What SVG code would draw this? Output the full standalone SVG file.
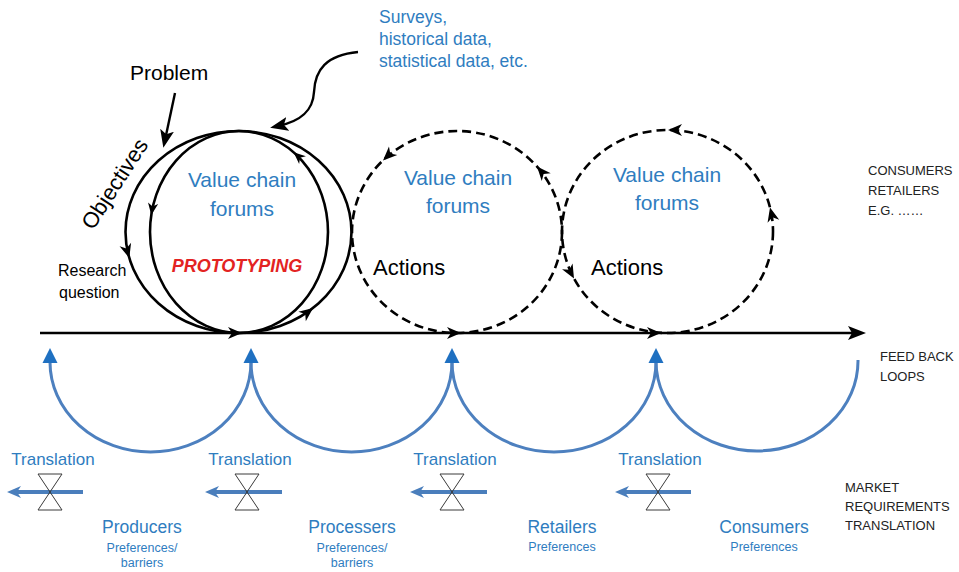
<svg xmlns="http://www.w3.org/2000/svg" width="959" height="572" viewBox="0 0 959 572">
<defs>
<style>
text { font-family: "Liberation Sans", Arial, sans-serif; }
.blk { fill:#000; }
.blue { fill:#2F7DBF; }
.cap { font-size:13px; fill:#222; }
.ring { fill:none; stroke:#000; stroke-width:2.6; }
.dash { fill:none; stroke:#000; stroke-width:2.6; stroke-dasharray:9 5; }
.fb { fill:none; stroke:#4D80BF; stroke-width:3; }
.mr { fill:none; stroke:#4A7EBC; stroke-width:4; }
.valve { fill:none; stroke:#3A3A3A; stroke-width:1; }
</style>
<path id="ah" d="M0,0 L-14,-6 L-10,0 L-14,6 Z" fill="#000"/>
<path id="bh" d="M0,0 L7.5,15 L-7.5,15 Z" fill="#1F70C1"/>
<marker id="mk" markerWidth="18" markerHeight="14" refX="10" refY="7" orient="auto" markerUnits="userSpaceOnUse">
<path d="M0,0 L18,7 L0,14 L4,7 Z" fill="#000"/>
</marker>
<marker id="mb" markerWidth="16" markerHeight="14" refX="6" refY="7" orient="auto" markerUnits="userSpaceOnUse">
<path d="M0,1 L14,7 L0,13 L4,7 Z" fill="#4A7EBC"/>
</marker>
</defs>
<rect width="959" height="572" fill="#fff"/>

<g id="connectors">
<path id="axis" d="M40,333 L858,333" fill="none" stroke="#000" stroke-width="2.6" marker-end="url(#mk)"/>
<path id="problem-arrow" d="M175,93 L165,140" fill="none" stroke="#000" stroke-width="2.4" marker-end="url(#mk)"/>
<path id="data-arrow" d="M358,52 C326,55 315,70 314,92 C313,110 302,121 278,126" fill="none" stroke="#000" stroke-width="2.4" marker-end="url(#mk)"/>
<g id="feedback-loops">
<path class="fb" d="M50,362 A100.5,90 0 0 0 251,362"/>
<path class="fb" d="M251,362 A100.5,90 0 0 0 452,362"/>
<path class="fb" d="M452,362 A102,90 0 0 0 656,362"/>
<path class="fb" d="M656,362 A101,90 0 0 0 858,360"/>
<use href="#bh" x="50" y="348"/>
<use href="#bh" x="251" y="348"/>
<use href="#bh" x="452" y="348"/>
<use href="#bh" x="656" y="348"/>
</g>
<g id="translation-arrows">
<path class="mr" d="M83,492 L15,492" marker-end="url(#mb)"/>
<path class="mr" d="M282,492 L213,492" marker-end="url(#mb)"/>
<path class="mr" d="M487,492 L418,492" marker-end="url(#mb)"/>
<path class="mr" d="M691,492 L623,492" marker-end="url(#mb)"/>
</g>
</g>

<g id="cycle-1">
<ellipse class="ring" cx="238.5" cy="232" rx="113" ry="101"/>
<ellipse class="ring" cx="239" cy="232" rx="89" ry="101"/>
<use href="#ah" transform="translate(129.3,258) rotate(73.5)"/>
<use href="#ah" transform="translate(313.1,307.9) rotate(-38.2)"/>
<use href="#ah" transform="translate(242,333)"/>
<use href="#ah" transform="translate(151.3,215) rotate(98.6) scale(0.85)"/>
<use href="#ah" transform="translate(293.6,152.2) rotate(-138.6) scale(0.85)"/>
<text class="blue" x="242" y="187" font-size="21" text-anchor="middle">Value chain</text>
<text class="blue" x="242" y="216" font-size="21" text-anchor="middle">forums</text>
<text x="237" y="272" font-size="18" font-weight="bold" font-style="italic" fill="#E32322" text-anchor="middle">PROTOTYPING</text>
</g>

<g id="cycle-2">
<ellipse class="dash" cx="457" cy="232" rx="105" ry="101"/>
<use href="#ah" transform="translate(383,160.4) rotate(136.3)"/>
<use href="#ah" transform="translate(537,166.6) rotate(-131.4)"/>
<use href="#ah" transform="translate(461,333)"/>
<text class="blue" x="458" y="185" font-size="21" text-anchor="middle">Value chain</text>
<text class="blue" x="458" y="213" font-size="21" text-anchor="middle">forums</text>
<text class="blk" x="373" y="275" font-size="22">Actions</text>
</g>

<g id="cycle-3">
<ellipse class="dash" cx="667.5" cy="231.5" rx="105.5" ry="101.5"/>
<use href="#ah" transform="translate(668,130) rotate(180)"/>
<use href="#ah" transform="translate(770,207.6) rotate(-104)"/>
<use href="#ah" transform="translate(574,278.6) rotate(61.5)"/>
<use href="#ah" transform="translate(661,333)"/>
<text class="blue" x="667" y="182" font-size="21" text-anchor="middle">Value chain</text>
<text class="blue" x="667" y="210" font-size="21" text-anchor="middle">forums</text>
<text class="blk" x="591" y="275" font-size="22">Actions</text>
</g>

<g id="inputs">
<text class="blk" x="130" y="80" font-size="21">Problem</text>
<text class="blk" font-size="22" transform="translate(93,231) rotate(-57)">Objectives</text>
<text class="blk" x="58" y="276" font-size="16">Research</text>
<text class="blk" x="59" y="298" font-size="16">question</text>
<text class="blue" font-size="17.5"><tspan x="379" y="23">Surveys,</tspan><tspan x="379" y="45">historical data,</tspan><tspan x="379" y="67">statistical data, etc.</tspan></text>
</g>

<g id="valves">
<g id="valve-1"><path class="valve" d="M38,474 L62,474 L38,510 L62,510 Z"/><text class="blue" x="53" y="465" font-size="17" text-anchor="middle">Translation</text></g>
<g id="valve-2"><path class="valve" d="M235,474 L259,474 L235,510 L259,510 Z"/><text class="blue" x="250" y="465" font-size="17" text-anchor="middle">Translation</text></g>
<g id="valve-3"><path class="valve" d="M440,474 L464,474 L440,510 L464,510 Z"/><text class="blue" x="455" y="465" font-size="17" text-anchor="middle">Translation</text></g>
<g id="valve-4"><path class="valve" d="M646,474 L670,474 L646,510 L670,510 Z"/><text class="blue" x="660" y="465" font-size="17" text-anchor="middle">Translation</text></g>
</g>

<g id="actors">
<g id="producers"><text class="blue" x="142" y="533" font-size="17.5" text-anchor="middle">Producers</text><text class="blue" x="142" y="552" font-size="12.5" text-anchor="middle">Preferences/</text><text class="blue" x="142" y="567" font-size="12.5" text-anchor="middle">barriers</text></g>
<g id="processers"><text class="blue" x="352" y="533" font-size="17.5" text-anchor="middle">Processers</text><text class="blue" x="352" y="552" font-size="12.5" text-anchor="middle">Preferences/</text><text class="blue" x="352" y="567" font-size="12.5" text-anchor="middle">barriers</text></g>
<g id="retailers"><text class="blue" x="562" y="533" font-size="17.5" text-anchor="middle">Retailers</text><text class="blue" x="562" y="551" font-size="12.5" text-anchor="middle">Preferences</text></g>
<g id="consumers"><text class="blue" x="764" y="533" font-size="17.5" text-anchor="middle">Consumers</text><text class="blue" x="764" y="551" font-size="12.5" text-anchor="middle">Preferences</text></g>
</g>

<g id="side-labels">
<text class="cap"><tspan x="868" y="175">CONSUMERS</tspan><tspan x="868" y="195">RETAILERS</tspan><tspan x="868" y="215">E.G. ……</tspan></text>
<text class="cap"><tspan x="880" y="361">FEED BACK</tspan><tspan x="880" y="381">LOOPS</tspan></text>
<text class="cap"><tspan x="845" y="492">MARKET</tspan><tspan x="845" y="511">REQUIREMENTS</tspan><tspan x="845" y="530">TRANSLATION</tspan></text>
</g>
</svg>
